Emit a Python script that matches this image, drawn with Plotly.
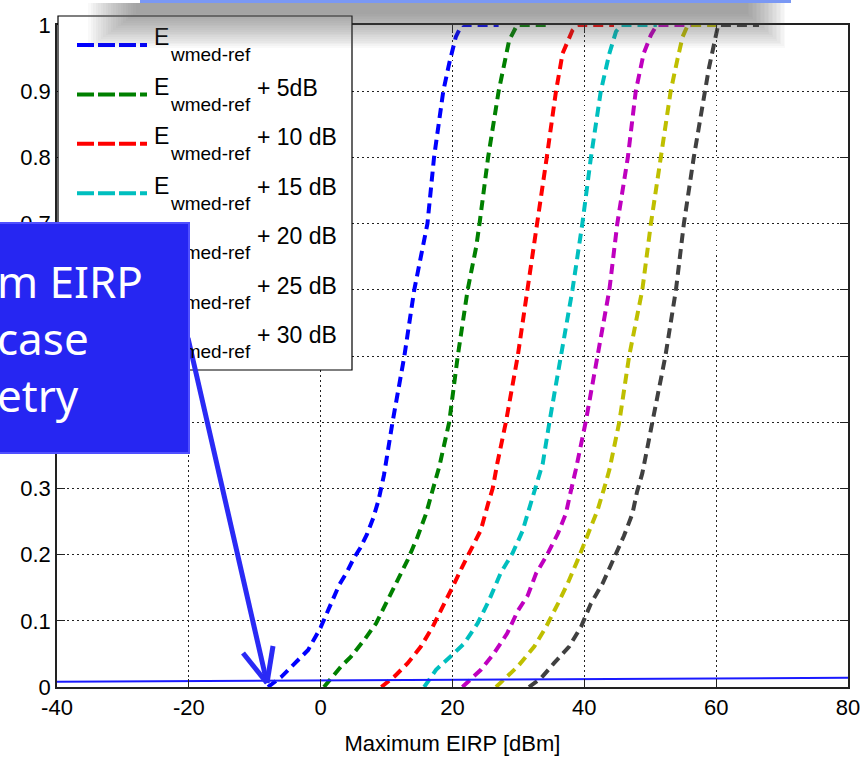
import plotly.graph_objects as go

# ---------------- data ----------------
x_ref = [-8.0, -6.0, -4.5, -1.9, 0.0, 1.6, 2.8, 4.0, 5.0, 6.0, 7.0, 8.0, 8.8, 9.6, 10.9, 12.7, 14.2, 15.5, 16.2, 17.2, 18.6, 19.5, 20.5, 21.4, 27.0]
y_ref = [0.0, 0.015, 0.03, 0.056, 0.09, 0.126, 0.154, 0.174, 0.194, 0.21, 0.23, 0.256, 0.283, 0.32, 0.40, 0.50, 0.60, 0.665, 0.70, 0.80, 0.90, 0.942, 0.982, 1.0, 1.0]

x_5db = [0.5, 3.1, 4.6, 6.6, 8.4, 10.2, 11.7, 13.2, 14.7, 16.0, 17.0, 18.0, 19.5, 20.8, 22.3, 23.6, 24.1, 25.4, 27.0, 28.6, 29.8, 35.0]
y_5db = [0.0, 0.031, 0.046, 0.071, 0.096, 0.131, 0.162, 0.192, 0.227, 0.262, 0.298, 0.333, 0.40, 0.50, 0.60, 0.665, 0.70, 0.80, 0.90, 0.977, 1.0, 1.0]

x_10db = [9.2, 11.2, 13.2, 15.2, 17.0, 18.8, 20.3, 21.5, 22.8, 24.3, 25.4, 26.1, 26.8, 28.1, 29.9, 31.4, 32.8, 34.3, 35.7, 36.7, 38.2, 39.0, 44.5]
y_10db = [0.0, 0.016, 0.036, 0.061, 0.091, 0.126, 0.157, 0.182, 0.207, 0.237, 0.277, 0.30, 0.338, 0.40, 0.50, 0.60, 0.70, 0.80, 0.90, 0.957, 0.992, 1.0, 1.0]

x_15db = [15.7, 17.5, 19.7, 21.8, 23.8, 25.5, 27.3, 29.1, 30.6, 31.6, 32.6, 33.7, 34.7, 36.4, 38.2, 39.7, 41.0, 42.5, 43.8, 44.8, 45.6, 51.0]
y_15db = [0.0, 0.026, 0.046, 0.066, 0.096, 0.13, 0.172, 0.202, 0.235, 0.267, 0.30, 0.338, 0.40, 0.50, 0.60, 0.70, 0.80, 0.90, 0.957, 0.99, 1.0, 1.0]

x_20db = [21.5, 24.3, 26.3, 28.3, 29.9, 31.4, 32.7, 34.2, 36.0, 37.2, 38.0, 38.7, 40.2, 42.0, 43.8, 45.0, 46.6, 47.8, 49.0, 50.1, 51.0, 56.5]
y_20db = [0.0, 0.026, 0.051, 0.081, 0.115, 0.138, 0.172, 0.197, 0.232, 0.262, 0.298, 0.328, 0.40, 0.50, 0.60, 0.70, 0.80, 0.90, 0.957, 0.985, 1.0, 1.0]

x_25db = [26.6, 29.9, 32.4, 34.2, 36.0, 37.5, 39.0, 40.0, 41.0, 42.0, 43.0, 43.8, 45.3, 46.8, 48.8, 50.1, 51.6, 53.1, 54.1, 54.9, 55.7, 61.5]
y_25db = [0.0, 0.031, 0.061, 0.091, 0.126, 0.157, 0.192, 0.217, 0.242, 0.267, 0.30, 0.328, 0.40, 0.50, 0.60, 0.70, 0.80, 0.90, 0.947, 0.982, 1.0, 1.0]

x_30db = [31.6, 33.4, 35.4, 37.7, 39.5, 41.0, 42.8, 44.5, 46.0, 47.3, 48.0, 48.8, 50.3, 52.3, 53.9, 55.1, 56.6, 58.2, 58.9, 59.7, 60.3, 66.5]
y_30db = [0.0, 0.013, 0.036, 0.061, 0.091, 0.126, 0.157, 0.195, 0.228, 0.262, 0.295, 0.323, 0.40, 0.50, 0.60, 0.70, 0.80, 0.90, 0.935, 0.972, 1.0, 1.0]

baseline_x = [-40, 80]
baseline_y = [0.008, 0.014]

series_suffix = ["", "+ 5dB", "+ 10 dB", "+ 15 dB", "+ 20 dB", "+ 25 dB", "+ 30 dB"]
series_colors = ["#0000FF", "#008000", "#FF0000", "#00BFBF", "#BF00BF", "#BFBF00", "#404040"]
series_x = [x_ref, x_5db, x_10db, x_15db, x_20db, x_25db, x_30db]
series_y = [y_ref, y_5db, y_10db, y_15db, y_20db, y_25db, y_30db]

x_ticks = [-40, -20, 0, 20, 40, 60, 80]
y_ticks = [0, 0.1, 0.2, 0.3, 0.4, 0.5, 0.6, 0.7, 0.8, 0.9, 1.0]
y_tick_text = ["0", "0.1", "0.2", "0.3", "0.4", "0.5", "0.6", "0.7", "0.8", "0.9", "1"]

callout_text = "m EIRP<br>case<br>etry"
x_title = "Maximum EIRP [dBm]"

# ---------------- layout geometry ----------------
W, H = 861, 759
ML, MR, MT, MB = 57, 13, 25, 72
PW, PH = W - ML - MR, H - MT - MB


def pxx(v):
    return (v - ML) / PW


def pxy(v):
    return (H - MB - v) / PH


FONT = "Liberation Sans, Arial, sans-serif"

fig = go.Figure()
for xs, ys, col, suf in zip(series_x, series_y, series_colors, series_suffix):
    fig.add_trace(go.Scatter(
        x=xs, y=ys, mode="lines", name=("E_wmed-ref " + suf).strip(),
        line=dict(color=col, width=4, dash="10px,6px"), showlegend=False))

fig.add_trace(go.Scatter(x=baseline_x, y=baseline_y, mode="lines",
                         line=dict(color="#1a1aff", width=2), showlegend=False,
                         hoverinfo="skip"))

shapes = []
annotations = []

# legend box
shapes.append(dict(type="rect", xref="paper", yref="paper",
                   x0=pxx(58), x1=pxx(352), y0=pxy(370), y1=pxy(16),
                   fillcolor="white", line=dict(color="black", width=1.2), layer="above"))
for i, (col, suf) in enumerate(zip(series_colors, series_suffix)):
    ly = 45 + 49.4 * i
    shapes.append(dict(type="line", xref="paper", yref="paper",
                       x0=pxx(77), x1=pxx(147), y0=pxy(ly), y1=pxy(ly),
                       line=dict(color=col, width=4, dash="17px,4px"), layer="above"))
    annotations.append(dict(xref="paper", yref="paper", x=pxx(152), y=pxy(37.5 + 49.4 * i),
                            xanchor="left", yanchor="middle", showarrow=False, text="E",
                            font=dict(family=FONT, size=23, color="black")))
    annotations.append(dict(xref="paper", yref="paper", x=pxx(168), y=pxy(55 + 49.4 * i),
                            xanchor="left", yanchor="middle", showarrow=False, text="wmed-ref",
                            font=dict(family=FONT, size=19, color="black")))
    if suf:
        annotations.append(dict(xref="paper", yref="paper", x=pxx(255), y=pxy(38.5 + 49.4 * i),
                                xanchor="left", yanchor="middle", showarrow=False, text=suf,
                                font=dict(family=FONT, size=23, color="black")))

# arrow
ARROW = "#2a2af5"
shapes.append(dict(type="line", xref="paper", yref="paper",
                   x0=pxx(188), y0=pxy(338), x1=pxx(267), y1=pxy(683),
                   line=dict(color=ARROW, width=5), layer="above"))
shapes.append(dict(type="line", xref="paper", yref="paper",
                   x0=pxx(243), y0=pxy(653), x1=pxx(267), y1=pxy(683),
                   line=dict(color=ARROW, width=5), layer="above"))
shapes.append(dict(type="line", xref="paper", yref="paper",
                   x0=pxx(273), y0=pxy(646), x1=pxx(267), y1=pxy(683),
                   line=dict(color=ARROW, width=5), layer="above"))

# callout box (annotation so it covers legend text)
annotations.append(dict(xref="paper", yref="paper", x=pxx(-6), y=pxy(222),
                        xanchor="left", yanchor="top", showarrow=False,
                        text=callout_text, align="left", valign="middle",
                        width=190, height=226, borderpad=1,
                        bgcolor="#2626f2", bordercolor="#5050ff", borderwidth=2,
                        font=dict(family="Noto Sans, Open Sans, sans-serif", size=44, color="white")))

# top banner line + soft shadow
shapes.append(dict(type="rect", xref="paper", yref="paper",
                   x0=pxx(140), x1=pxx(791), y0=pxy(3), y1=pxy(0),
                   fillcolor="#7a98f4", line=dict(width=0), layer="above"))
for i in range(20):
    a = 88 + 2.5 * i
    b = 785 - 2.0 * i
    h = 48 - 1.8 * i
    annotations.append(dict(xref="paper", yref="paper", x=pxx(a), y=pxy(3),
                            xanchor="left", yanchor="top", showarrow=False, text=" ",
                            width=b - a, height=h - 3, borderpad=0, borderwidth=0,
                            bgcolor="#5a5a5a", opacity=0.03))

axis_common = dict(showline=True, linecolor="#222", linewidth=1.5, mirror="ticks",
                   ticks="inside", ticklen=8, tickcolor="#222", tickwidth=1.2,
                   showgrid=True, gridcolor="#222", gridwidth=1, griddash="1.5px,3.5px",
                   zeroline=False, tickfont=dict(family=FONT, size=22, color="black"))

fig.update_layout(
    width=W, height=H, margin=dict(l=ML, r=MR, t=MT, b=MB, autoexpand=False),
    paper_bgcolor="white", plot_bgcolor="white", showlegend=False,
    xaxis=dict(range=[-40, 80], tickvals=x_ticks, ticktext=[str(v) for v in x_ticks],
               title=dict(text=x_title, font=dict(family=FONT, size=22, color="black"), standoff=16),
               **axis_common),
    yaxis=dict(range=[0, 1], tickvals=y_ticks, ticktext=y_tick_text, **axis_common),
    shapes=shapes, annotations=annotations,
)

fig.write_html("out.html")
